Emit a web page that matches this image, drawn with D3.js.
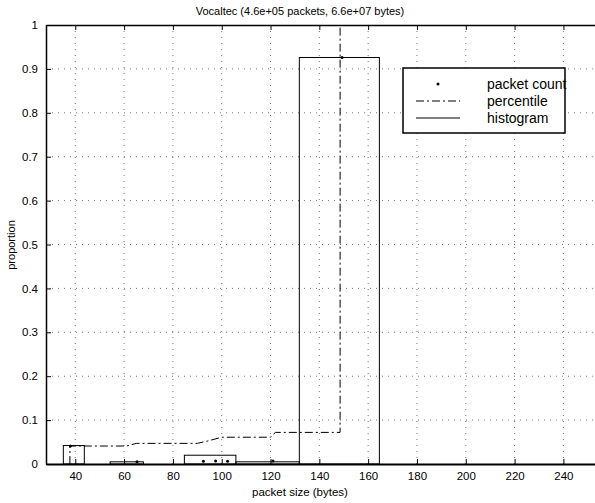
<!DOCTYPE html>
<html lang="en">
<head>
  <meta charset="UTF-8">
  <title>Vocaltec packet sizes</title>
  <style>
    body { margin: 0; background: #fff; }
    svg { font-family: "Liberation Sans", Arial, sans-serif; }
    .grid line { stroke: #555; stroke-dasharray: 1,5; stroke-width: 0.8px; }
    .tick text { font-size: 11.5px; fill: #000; }
  </style>
</head>
<body>
  <svg id="chart" width="595" height="503"></svg>

  <script src="https://d3js.org/d3.v7.min.js"></script>
  <script>
    // histogram bins (bytes) and their proportions
    const binStart = [35.1, 54.3, 84.7, 105.8, 131.8];
    const binEnd = [43.7, 67.9, 105.8, 131.8, 164.6];
    const binValue = [0.042, 0.005, 0.02, 0.005, 0.926];

    // packet count points
    const countSize = [38, 65.3, 92.5, 97.5, 102.4, 121, 149.3];
    const countValue = [0.041, 0.005, 0.006, 0.007, 0.006, 0.007, 0.926];

    // percentile (cumulative) step line
    const pctSize = [37.8, 37.8, 61, 65, 90, 94, 100, 120, 122, 148.5, 148.5];
    const pctValue = [0, 0.041, 0.041, 0.047, 0.047, 0.052, 0.061, 0.061, 0.072, 0.072, 1];

    const xTicks = [40, 60, 80, 100, 120, 140, 160, 180, 200, 220, 240];
    const yTicks = [0, 0.1, 0.2, 0.3, 0.4, 0.5, 0.6, 0.7, 0.8, 0.9, 1];

    const plotL = 46, plotR = 600, plotT = 25, plotB = 464;
    const svg = d3.select('#chart');

    const x = d3.scaleLinear().domain([28, 255]).range([plotL, plotR]);
    const y = d3.scaleLinear().domain([0, 1]).range([plotB, plotT]);

    // grid
    svg.append('g').attr('class', 'grid')
      .selectAll('line').data(xTicks).enter().append('line')
      .attr('x1', d => x(d)).attr('x2', d => x(d))
      .attr('y1', plotT).attr('y2', plotB);
    svg.append('g').attr('class', 'grid')
      .selectAll('line').data(yTicks.slice(1, -1)).enter().append('line')
      .attr('x1', plotL).attr('x2', plotR)
      .attr('y1', d => y(d)).attr('y2', d => y(d));

    // axes (matlab style: ticks inward, box on top)
    const xAxis = d3.axisBottom(x).tickValues(xTicks).tickSizeInner(-5).tickSizeOuter(0).tickPadding(8);
    const yAxis = d3.axisLeft(y).tickValues(yTicks).tickSizeInner(-5).tickSizeOuter(0).tickPadding(8)
      .tickFormat(d => d === 0 || d === 1 ? d3.format('d')(d) : d3.format('.1f')(d));

    const gx = svg.append('g').attr('transform', `translate(0,${plotB})`).call(xAxis);
    gx.select('.domain').attr('stroke-width', 2);
    const gy = svg.append('g').attr('transform', `translate(${plotL},0)`).call(yAxis);
    gy.select('.domain').attr('stroke-width', 1.5);
    const gt = svg.append('g').attr('transform', `translate(0,${plotT})`)
      .call(d3.axisTop(x).tickValues(xTicks).tickSizeInner(-5).tickSizeOuter(0).tickFormat(''));
    gt.select('.domain').attr('stroke-width', 1.5);

    // histogram
    svg.append('g').selectAll('rect').data(binValue).enter().append('rect')
      .attr('x', (d, i) => x(binStart[i]))
      .attr('width', (d, i) => x(binEnd[i]) - x(binStart[i]))
      .attr('y', d => y(d))
      .attr('height', d => y(0) - y(d))
      .attr('fill', 'none')
      .attr('stroke', '#000')
      .attr('stroke-width', 1);

    // percentile
    const line = d3.line().x(d => x(d[0])).y(d => y(d[1]));
    svg.append('path')
      .datum(pctSize.map((s, i) => [s, pctValue[i]]))
      .attr('d', line)
      .attr('fill', 'none')
      .attr('stroke', '#000')
      .attr('stroke-width', 1)
      .attr('stroke-dasharray', '8,3,2,3');

    // packet count
    svg.append('g').selectAll('circle').data(countValue).enter().append('circle')
      .attr('cx', (d, i) => x(countSize[i]))
      .attr('cy', d => y(d))
      .attr('r', 1.5)
      .attr('fill', '#000');

    // legend
    const lg = svg.append('g');
    lg.append('rect').attr('x', 403).attr('y', 68).attr('width', 162).attr('height', 65)
      .attr('fill', '#fff').attr('stroke', '#000').attr('stroke-width', 1.5);
    const items = ['packet count', 'percentile', 'histogram'];
    const rowY = [84, 101, 118];
    items.forEach((name, i) => {
      lg.append('text').attr('x', 487).attr('y', rowY[i] + 5)
        .attr('font-size', 14).text(name);
    });
    lg.append('circle').attr('cx', 438).attr('cy', rowY[0]).attr('r', 1.5).attr('fill', '#000');
    lg.append('line').attr('x1', 416).attr('x2', 460).attr('y1', rowY[1]).attr('y2', rowY[1])
      .attr('stroke', '#000').attr('stroke-dasharray', '8,3,2,3');
    lg.append('line').attr('x1', 416).attr('x2', 460).attr('y1', rowY[2]).attr('y2', rowY[2])
      .attr('stroke', '#000');

    // labels
    svg.append('text').attr('x', 300).attr('y', 15).attr('text-anchor', 'middle')
      .attr('font-size', 11).text('Vocaltec (4.6e+05 packets, 6.6e+07 bytes)');
    svg.append('text').attr('x', 300).attr('y', 496).attr('text-anchor', 'middle')
      .attr('font-size', 11.5).text('packet size (bytes)');
    svg.append('text').attr('transform', 'translate(15,245) rotate(-90)')
      .attr('text-anchor', 'middle').attr('font-size', 11).text('proportion');
  </script>
</body>
</html>
